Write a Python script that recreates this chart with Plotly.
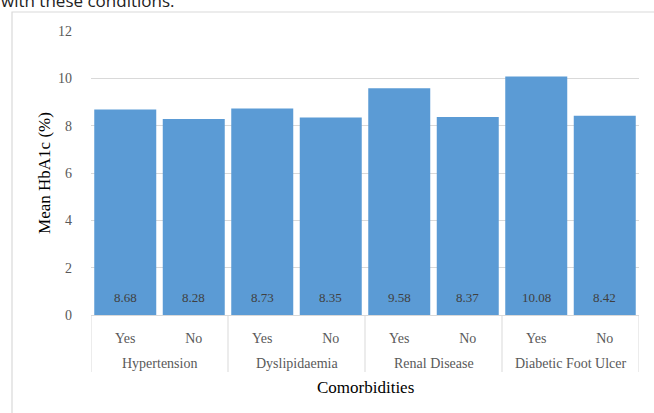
import plotly.graph_objects as go

# Mean HbA1c by presence of each comorbidity
groups = ["Hypertension", "Dyslipidaemia", "Renal Disease", "Diabetic Foot Ulcer"]
levels = ["Yes", "No"]
mean_hba1c = [8.68, 8.28, 8.73, 8.35, 9.58, 8.37, 10.08, 8.42]
y_ticks = [0, 2, 4, 6, 8, 10, 12]

W, H = 654, 413
L, R, T, B = 91, 15, 31, 98
plot_w = W - L - R
plot_h = H - T - B


def px_x(px):
    return (px - L) / plot_w


def px_y(py):
    return (H - B - py) / plot_h


serif = "Liberation Serif, Times New Roman, serif"
grey_txt = "#595959"
line_c = "#D9D9D9"

positions = list(range(len(mean_hba1c)))
tick_text = [levels[i % 2] for i in positions]

fig = go.Figure()
fig.add_trace(go.Bar(
    x=positions,
    y=mean_hba1c,
    marker=dict(color="#5B9BD5", line=dict(width=0)),
    width=0.905,
    hoverinfo="x+y",
))

annotations = []
# value labels near the bar base
for xi, v in zip(positions, mean_hba1c):
    annotations.append(dict(
        x=xi, y=0.72, xref="x", yref="y", text=f"{v:.2f}", showarrow=False,
        font=dict(family=serif, size=13, color="#404040"),
        xanchor="center", yanchor="middle",
    ))
# group labels under the Yes/No row
for gi, g in enumerate(groups):
    annotations.append(dict(
        x=gi * 2 + 0.5, y=px_y(363), xref="x", yref="paper", text=g,
        showarrow=False, font=dict(family=serif, size=14, color=grey_txt),
        xanchor="center", yanchor="middle",
    ))
# axis title for the categories
annotations.append(dict(
    x=3.5, y=px_y(387), xref="x", yref="paper", text="Comorbidities",
    showarrow=False, font=dict(family=serif, size=17, color="#000000"),
    xanchor="center", yanchor="middle",
))
# running text above the chart frame
annotations.append(dict(
    x=px_x(-1), y=px_y(1), xref="paper", yref="paper",
    text="with these conditions.", showarrow=False,
    font=dict(family="Open Sans, Noto Sans, sans-serif", size=17, color="#222222"),
    xanchor="left", yanchor="middle",
))

shapes = []
# group dividers through the category label rows
for xb in [-0.5, 1.5, 3.5, 5.5, 7.5]:
    shapes.append(dict(
        type="line", xref="x", yref="paper", x0=xb, x1=xb,
        y0=0, y1=px_y(372), line=dict(color=line_c, width=1),
    ))
# chart area frame
shapes.append(dict(
    type="rect", xref="paper", yref="paper",
    x0=px_x(12), x1=px_x(700), y0=px_y(12), y1=px_y(460),
    line=dict(color=line_c, width=1.2), fillcolor="rgba(0,0,0,0)", layer="below",
))

fig.update_layout(
    width=W, height=H,
    margin=dict(l=L, r=R, t=T, b=B),
    paper_bgcolor="white", plot_bgcolor="white",
    showlegend=False,
    annotations=annotations,
    shapes=shapes,
    xaxis=dict(
        range=[-0.5, 7.5], tickmode="array", tickvals=positions, ticktext=tick_text,
        showgrid=False, zeroline=False, showline=True, linecolor=line_c, linewidth=1,
        ticks="", ticklabelstandoff=10,
        tickfont=dict(family=serif, size=14, color=grey_txt),
    ),
    yaxis=dict(
        range=[0, 12], tickmode="array", tickvals=y_ticks,
        showgrid=True, gridcolor=line_c, gridwidth=1, zeroline=False,
        showline=False, ticks="", ticklabelstandoff=18,
        tickfont=dict(family=serif, size=14, color=grey_txt),
        title=dict(text="Mean HbA1c (%)", standoff=3,
                   font=dict(family=serif, size=17, color="#000000")),
    ),
)

fig.write_html("out.html")
